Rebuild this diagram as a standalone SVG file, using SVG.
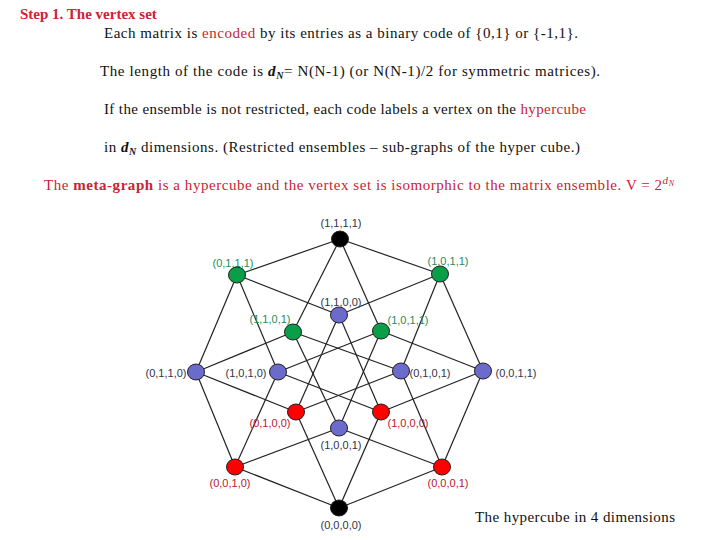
<svg xmlns="http://www.w3.org/2000/svg" width="720" height="540" viewBox="0 0 720 540">
<style>
.hd{font-family:"Liberation Serif","Times New Roman",serif;font-size:15px;fill:#111}
.red{fill:#cc2233}
.lb{font-family:"Liberation Sans",Arial,sans-serif;font-size:11px;text-anchor:middle}
.dk{fill:#333344}
.gn{fill:#2a8a5a}
.rd{fill:#b3202a}
.e{stroke:#222;stroke-width:1.2;fill:none}
.n{stroke:#222;stroke-width:1}
.blk{fill:#000}
.grn{fill:#0a9e48}
.blu{fill:#6b6bcc}
.rdn{fill:#ff0000}
</style>
<rect width="720" height="540" fill="#fff"/>
<g id="header">
<text x="20" y="19" class="hd red" font-weight="bold" font-size="16">Step 1. The vertex set</text>
<text x="104" y="38" class="hd" textLength="474" lengthAdjust="spacing">Each matrix is <tspan class="red">encoded</tspan>  by its entries as a binary code of  {0,1} or {-1,1}.</text>
<text x="100" y="76" class="hd" textLength="500" lengthAdjust="spacing">The length of the code is  <tspan font-style="italic" font-weight="bold">d</tspan><tspan font-style="italic" font-weight="bold" font-size="10" dy="3">N</tspan><tspan dy="-3">= N(N-1)  (or  N(N-1)/2 for symmetric matrices).</tspan></text>
<text x="104" y="114" class="hd" textLength="482" lengthAdjust="spacing">If the ensemble  is not restricted,  each code labels a vertex on the <tspan class="red">hypercube</tspan></text>
<text x="104" y="152" class="hd" textLength="476" lengthAdjust="spacing">in <tspan font-style="italic" font-weight="bold">d</tspan><tspan font-style="italic" font-weight="bold" font-size="10" dy="3">N</tspan><tspan dy="-3">  dimensions. (Restricted ensembles – sub-graphs of the hyper cube.)</tspan></text>
<text x="44" y="190" class="hd red" textLength="630" lengthAdjust="spacing">The <tspan font-weight="bold">meta-graph</tspan>  is a hypercube and  the vertex set  is  isomorphic to the matrix ensemble.  V = 2<tspan font-style="italic" font-size="11" dy="-6">d</tspan><tspan font-style="italic" font-size="8" dy="2">N</tspan></text>
</g>
<g id="connectors" class="e">
<line x1="340" y1="239" x2="237" y2="275"/>
<line x1="340" y1="239" x2="440" y2="274"/>
<line x1="340" y1="239" x2="293" y2="332"/>
<line x1="340" y1="239" x2="381" y2="331"/>
<line x1="237" y1="275" x2="196" y2="372"/>
<line x1="237" y1="275" x2="278" y2="372"/>
<line x1="237" y1="275" x2="339" y2="315"/>
<line x1="440" y1="274" x2="483" y2="371"/>
<line x1="440" y1="274" x2="401" y2="371"/>
<line x1="440" y1="274" x2="339" y2="315"/>
<line x1="339" y1="315" x2="296" y2="412"/>
<line x1="339" y1="315" x2="381" y2="412"/>
<line x1="293" y1="332" x2="196" y2="372"/>
<line x1="293" y1="332" x2="401" y2="371"/>
<line x1="293" y1="332" x2="339" y2="428"/>
<line x1="381" y1="331" x2="483" y2="371"/>
<line x1="381" y1="331" x2="278" y2="372"/>
<line x1="381" y1="331" x2="339" y2="428"/>
<line x1="278" y1="372" x2="235" y2="467"/>
<line x1="278" y1="372" x2="381" y2="412"/>
<line x1="401" y1="371" x2="442" y2="467"/>
<line x1="401" y1="371" x2="296" y2="412"/>
<line x1="196" y1="372" x2="235" y2="467"/>
<line x1="196" y1="372" x2="296" y2="412"/>
<line x1="483" y1="371" x2="442" y2="467"/>
<line x1="483" y1="371" x2="381" y2="412"/>
<line x1="296" y1="412" x2="339" y2="508"/>
<line x1="381" y1="412" x2="339" y2="508"/>
<line x1="339" y1="428" x2="235" y2="467"/>
<line x1="339" y1="428" x2="442" y2="467"/>
<line x1="235" y1="467" x2="339" y2="508"/>
<line x1="442" y1="467" x2="339" y2="508"/>
</g>
<g id="labels" class="lb">
<text x="341" y="227" class="dk">(1,1,1,1)</text>
<text x="233" y="267" class="gn">(0,1,1,1)</text>
<text x="448" y="265" class="gn">(1,0,1,1)</text>
<text x="341" y="306" class="dk">(1,1,0,0)</text>
<text x="270" y="323" class="gn">(1,1,0,1)</text>
<text x="408" y="324" class="gn">(1,0,1,1)</text>
<text x="166" y="377" class="dk">(0,1,1,0)</text>
<text x="246" y="377" class="dk">(1,0,1,0)</text>
<text x="430" y="377" class="dk">(0,1,0,1)</text>
<text x="516" y="377" class="dk">(0,0,1,1)</text>
<text x="270" y="427" class="rd">(0,1,0,0)</text>
<text x="408" y="427" class="rd">(1,0,0,0)</text>
<text x="341" y="449" class="dk">(1,0,0,1)</text>
<text x="230" y="487" class="rd">(0,0,1,0)</text>
<text x="448" y="487" class="rd">(0,0,0,1)</text>
<text x="341" y="529" class="dk">(0,0,0,0)</text>
</g>
<g id="n1111"><ellipse cx="340" cy="239" rx="8.5" ry="8" class="n blk"/></g>
<g id="n0111"><ellipse cx="237" cy="275" rx="8.5" ry="8" class="n grn"/></g>
<g id="n1011a"><ellipse cx="440" cy="274" rx="8.5" ry="8" class="n grn"/></g>
<g id="n1100"><ellipse cx="339" cy="315" rx="8.5" ry="8" class="n blu"/></g>
<g id="n1101"><ellipse cx="293" cy="332" rx="8.5" ry="8" class="n grn"/></g>
<g id="n1011b"><ellipse cx="381" cy="331" rx="8.5" ry="8" class="n grn"/></g>
<g id="n0110"><ellipse cx="196" cy="372" rx="8.5" ry="8" class="n blu"/></g>
<g id="n1010"><ellipse cx="278" cy="372" rx="8.5" ry="8" class="n blu"/></g>
<g id="n0101"><ellipse cx="401" cy="371" rx="8.5" ry="8" class="n blu"/></g>
<g id="n0011"><ellipse cx="483" cy="371" rx="8.5" ry="8" class="n blu"/></g>
<g id="n0100"><ellipse cx="296" cy="412" rx="8.5" ry="8" class="n rdn"/></g>
<g id="n1000"><ellipse cx="381" cy="412" rx="8.5" ry="8" class="n rdn"/></g>
<g id="n1001"><ellipse cx="339" cy="428" rx="8.5" ry="8" class="n blu"/></g>
<g id="n0010"><ellipse cx="235" cy="467" rx="8.5" ry="8" class="n rdn"/></g>
<g id="n0001"><ellipse cx="442" cy="467" rx="8.5" ry="8" class="n rdn"/></g>
<g id="n0000"><ellipse cx="339" cy="508" rx="8.5" ry="8" class="n blk"/></g>
<text x="475" y="522" font-family="'Liberation Serif','Times New Roman',serif" font-size="15" fill="#111" textLength="200" lengthAdjust="spacing">The hypercube in 4 dimensions</text>
</svg>
